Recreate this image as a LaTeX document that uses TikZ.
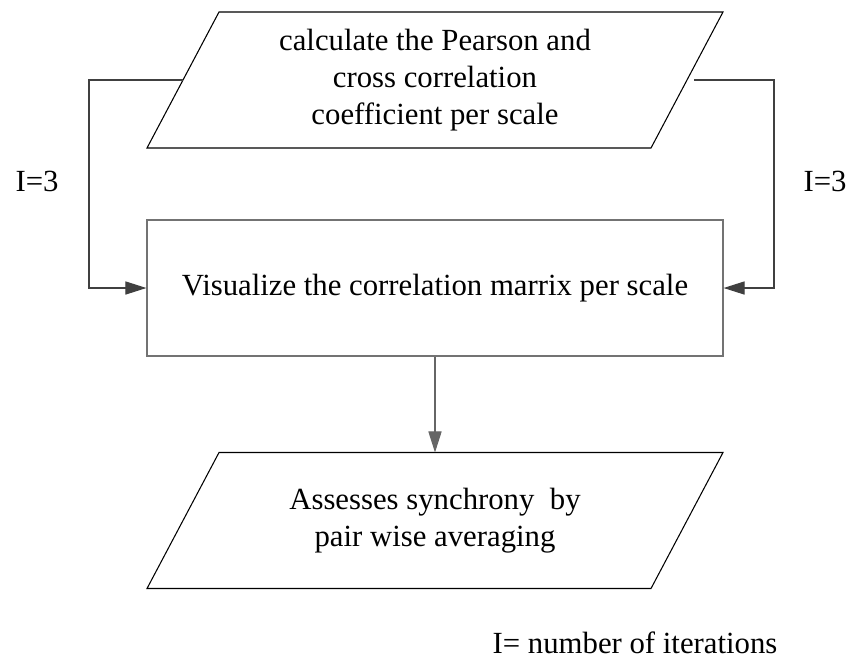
\documentclass[tikz,border=0pt]{standalone}
\usepackage{fontspec}
\setmainfont{Liberation Serif}
\usetikzlibrary{calc}
\usetikzlibrary{arrows.meta}

\tikzset{
  txt/.style={align=center, inner sep=0pt},
  box/.style={draw=black!55, line width=0.7pt, rectangle,
    minimum width=11.52cm, minimum height=2.72cm, align=center},
  arr/.style={line width=0.6pt, -{Triangle[length=12pt,width=7.5pt]}},
}
% parallelogram round a text node
\newcommand\parabox[1]{%
  \draw[line width=0.6pt] ($(#1)+(-216,-68)$) -- ($(#1)+(288,-68)$)
    -- ($(#1)+(216,68)$) -- ($(#1)+(-288,68)$) -- cycle;}

\begin{document}
\begin{tikzpicture}[x=0.2mm,y=-0.2mm]
  \fontsize{17.5}{21}\selectfont
  % page
  \useasboundingbox (0,0) rectangle (850,660);

  % boxes
  \node[txt] (calc) at (435,80) {calculate the Pearson and\\cross correlation\\coefficient per scale};
  \parabox{calc}
  \node[box] (viz) at (435,288) {Visualize the correlation marrix per scale};
  \node[txt] (sync) at (435,520.5) {Assesses synchrony \ by\\pair wise averaging};
  \parabox{sync}
  \coordinate (syncTop) at ($(sync)+(0,-68)$);

  % loops
  \coordinate (lpL) at (183,80);
  \coordinate (cornL) at (89,80);
  \coordinate (lpR) at (694,80);
  \coordinate (cornR) at (774,80);
  \draw[arr, draw=black!75] (lpL) -- (cornL) |- (viz.west);
  \draw[arr, draw=black!75] (lpR) -- (cornR) |- (viz.east);
  \draw[arr, draw=black!60] (viz.south) -- (syncTop);

  % labels
  \node[anchor=base] (itL) at (37,191) {I=3};
  \node[anchor=base] (itR) at (825,191) {I=3};
  \node[anchor=base, inner sep=0pt] (note) at (635,653) {I= number of iterations};
\end{tikzpicture}
\end{document}
